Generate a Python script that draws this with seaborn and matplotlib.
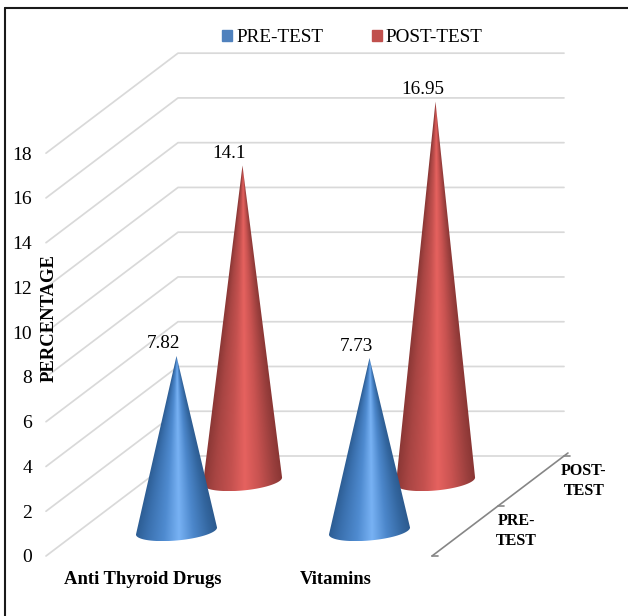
import numpy as np
import pandas as pd
import seaborn as sns
import matplotlib.pyplot as plt
from matplotlib.lines import Line2D
from matplotlib.patches import Patch, PathPatch
from matplotlib.path import Path

categories = ['Anti Thyroid Drugs', 'Vitamins']
pre_test = [7.82, 7.73]
post_test = [14.1, 16.95]
value_labels_pre = ['7.82', '7.73']
value_labels_post = ['14.1', '16.95']
y_ticks = [0, 2, 4, 6, 8, 10, 12, 14, 16, 18]
series_names = ['PRE-TEST', 'POST-TEST']

W, H = 628, 616
PX_X = 193.0    # pixels per category
PX_Y = 22.38    # pixels per percentage point
Y0_PX = 556
DEPTH_DX = 132 / PX_X
DEPTH_DY = 100 / PX_Y
CONE_SHIFT = 1 / PX_X


def project(x, depth, value):
    # oblique projection of the fake 3d box
    return x + depth * DEPTH_DX, value + depth * DEPTH_DY


def shade(stops, s):
    pos = [p[0] for p in stops]
    rgb = np.array([plt.matplotlib.colors.to_rgb(p[1]) for p in stops])
    return np.dstack([np.interp(s, pos, rgb[:, i]) for i in range(3)])


def cone(ax, x, depth, value, radius, stops, zorder):
    cx, cy = project(x, depth, 0)
    tip_y = cy + value
    tilt = 3.5 / PX_Y
    minor = 9.5 / PX_Y
    t = np.linspace(np.pi, 2 * np.pi, 60)
    arc_x = cx + radius * np.cos(t)
    arc_y = cy + tilt * np.cos(t) + minor * np.sin(t)
    verts = [(cx, tip_y)] + list(zip(arc_x, arc_y)) + [(cx, tip_y)]
    codes = [Path.MOVETO] + [Path.LINETO] * (len(verts) - 2) + [Path.CLOSEPOLY]
    outline = PathPatch(Path(verts, codes), transform=ax.transData, fc='none', ec='none')
    ax.add_patch(outline)

    # shading runs from the tip down, so the highlight narrows to the apex
    left, right = cx - radius, cx + radius
    bottom, top = arc_y.min(), tip_y
    gx, gy = np.meshgrid(np.linspace(left, right, 240), np.linspace(top, bottom, 500))
    frac = np.clip((tip_y - gy) / (tip_y - cy), 0.002, None)
    s = np.clip((gx - cx) / (radius * frac), -1, 1)
    im = ax.imshow(shade(stops, s), extent=(left, right, bottom, top), aspect='auto',
                   interpolation='bilinear', zorder=zorder)
    im.set_clip_path(outline)


sns.set_theme(style='white')
plt.rcParams['font.family'] = ['Liberation Serif', 'DejaVu Serif']

fig, ax = plt.subplots(figsize=(W / 100, H / 100), dpi=100)
ax.set_position([0, 0, 1, 1])

# grid: diagonal on the side wall, then flat along the back wall
rows = []
for tick in y_ticks:
    for x, depth in [(-0.5, 0), (-0.5, 1), (1.5, 1)]:
        px, py = project(x, depth, tick)
        rows.append({'x': px, 'y': py, 'tick': tick})
grid_df = pd.DataFrame(rows)
sns.lineplot(data=grid_df, x='x', y='y', units='tick', estimator=None, sort=False,
             color='#D9D9D9', linewidth=1.25, legend=False, ax=ax, zorder=1)

# depth axis
axis_rows = []
for depth in [0, 1.03]:
    px, py = project(1.5, depth, 0)
    axis_rows.append({'x': px, 'y': py, 'tick': -1})
for i, depth in enumerate([0, 0.5, 1]):
    px, py = project(1.5, depth, 0)
    axis_rows.append({'x': px, 'y': py, 'tick': i})
    axis_rows.append({'x': px + 6 / PX_X, 'y': py, 'tick': i})
axis_df = pd.DataFrame(axis_rows)
sns.lineplot(data=axis_df, x='x', y='y', units='tick', estimator=None, sort=False,
             color='#868686', linewidth=1.2, legend=False, ax=ax, zorder=1)

blue_stops = [(-1, '#2C5C92'), (-0.72, '#3A70AE'), (-0.3, '#4F8BD0'), (0.05, '#78B2F4'),
              (0.4, '#4C87CB'), (0.8, '#33669F'), (1, '#2C5A8E')]
red_stops = [(-1, '#8A3735'), (-0.7, '#A84543'), (-0.3, '#C4514F'), (0.05, '#E6625F'),
             (0.4, '#C95351'), (0.8, '#9A3F3D'), (1, '#883533')]

for i in range(len(categories)):
    cone(ax, i + CONE_SHIFT, 0.75, post_test[i], 0.205, red_stops, 3)
    cone(ax, i + CONE_SHIFT, 0.25, pre_test[i], 0.21, blue_stops, 4)
    for depth, val, lab in [(0.75, post_test[i], value_labels_post[i]),
                            (0.25, pre_test[i], value_labels_pre[i])]:
        px, py = project(i + CONE_SHIFT, depth, val)
        ax.annotate(lab, (px, py), xytext=(-13 * 0.72, 12 * 0.72), textcoords='offset points',
                    ha='center', va='center', fontsize=13.8, color='black', zorder=5)

ax.set_xlim(-0.5 - 46 / PX_X, -0.5 + (W - 46) / PX_X)
ax.set_ylim((Y0_PX - H) / PX_Y, Y0_PX / PX_Y)
ax.set_xlabel('')
ax.set_ylabel('')

ax.set_yticks(y_ticks)
ax.set_yticklabels([str(t) for t in y_ticks], fontsize=14, color='black')
ax.tick_params(axis='y', length=0, pad=-32 * 0.72)
ax.set_xticks(range(len(categories)))
ax.set_xticklabels(categories, fontsize=13.4, fontweight='bold', color='black')
ax.tick_params(axis='x', length=0, pad=-(H - 571) * 0.72)
sns.despine(ax=ax, left=True, bottom=True)

fig.text(49 / W, 1 - 318 / H, 'PERCENTAGE', rotation=90, ha='center', va='center',
         fontsize=13.4, fontweight='bold', color='black')
fig.text(584 / W, 1 - 481 / H, 'POST-\nTEST', ha='center', va='center', fontsize=11.5,
         fontweight='bold', color='black', linespacing=1.3)
fig.text(516 / W, 1 - 531 / H, 'PRE-\nTEST', ha='center', va='center', fontsize=11.5,
         fontweight='bold', color='black', linespacing=1.3)

handles = [Patch(color='#4F81BD', label=series_names[0]), Patch(color='#C0504D', label=series_names[1])]
fig.legend(handles=handles, ncol=2, frameon=False, fontsize=13.8, loc='center',
           bbox_to_anchor=(352.5 / W, 1 - 38 / H), handlelength=0.52, handleheight=0.52,
           handletextpad=0.2, columnspacing=2.55, borderpad=0, labelcolor='black')

# outer frame of the screenshot, only top and left are in view
fig.add_artist(Line2D([5 / W, 5 / W], [0, 1 - 8 / H], color='#1A1A1A', linewidth=1.5))
fig.add_artist(Line2D([5 / W, 1], [1 - 8 / H, 1 - 8 / H], color='#1A1A1A', linewidth=1.5))

fig.savefig('out.png', dpi=100)
